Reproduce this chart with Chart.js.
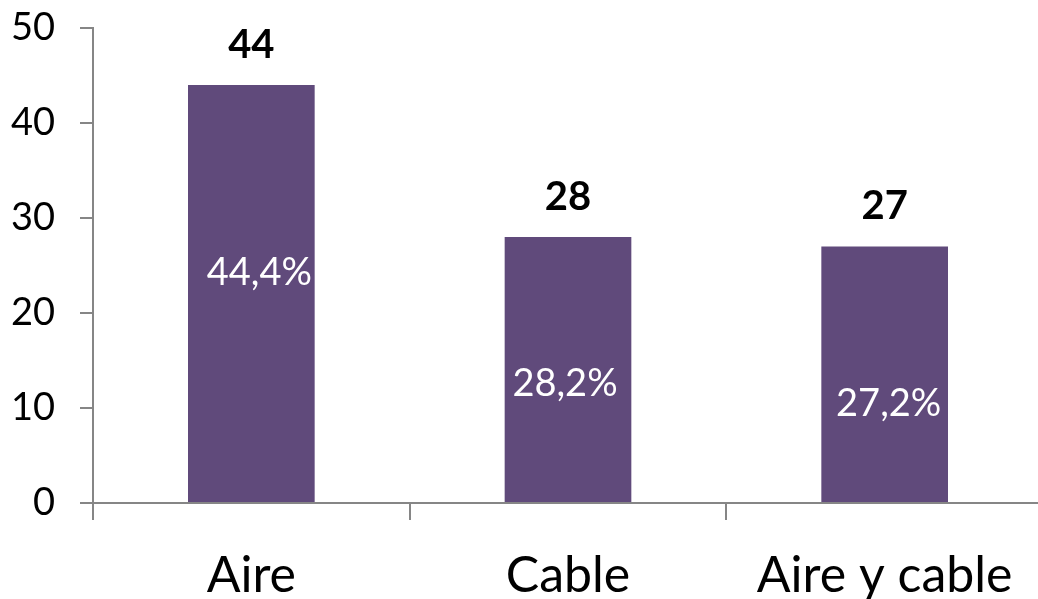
<!DOCTYPE html>
<html>
<head>
<meta charset="utf-8">
<script src="https://cdn.jsdelivr.net/npm/chart.js@4"></script>
<style>
html,body{margin:0;padding:0;background:#fff;overflow:hidden;}
#wrap{position:relative;width:1050px;height:599px;}
</style>
</head>
<body>
<div id="wrap"><canvas id="c"></canvas></div>
<script>
const categories = ["Aire", "Cable", "Aire y cable"];
const counts = [44, 28, 27];
const percentLabels = ["44,4%", "28,2%", "27,2%"];
const yTicks = [0, 10, 20, 30, 40, 50];

const FONT = "Lato, 'Open Sans', sans-serif";

const labelPlugin = {
  id: 'barLabels',
  afterDatasetsDraw(chart, args, opts) {
    const ctx = chart.ctx;
    const meta = chart.getDatasetMeta(0);
    const y = chart.scales.y;
    ctx.save();
    ctx.textAlign = 'center';
    ctx.textBaseline = 'middle';
    meta.data.forEach((bar, i) => {
      ctx.fillStyle = '#000';
      ctx.font = "bold 40px " + FONT;
      ctx.fillText(String(counts[i]), bar.x, bar.y - opts.topGap);
      ctx.fillStyle = '#fff';
      ctx.font = "38px " + FONT;
      ctx.fillText(percentLabels[i], bar.x + opts.innerDx[i], y.getPixelForValue(opts.innerAt[i]));
    });
    ctx.restore();
  }
};

new Chart(document.getElementById('c'), {
  type: 'bar',
  data: {
    labels: categories,
    datasets: [{
      data: counts,
      backgroundColor: '#604a7b',
      borderWidth: 0,
      categoryPercentage: 1,
      barPercentage: 0.4
    }]
  },
  options: {
    responsive: true,
    maintainAspectRatio: false,
    animation: false,
    events: [],
    layout: { padding: { top: 28, right: 7, left: 0, bottom: 0 } },
    plugins: {
      legend: { display: false },
      tooltip: { enabled: false },
      barLabels: { topGap: 40, innerAt: [24.2, 12.6, 10.5], innerDx: [8, -3, 4] }
    },
    scales: {
      x: {
        offset: true,
        grid: { display: true, offset: true, drawOnChartArea: false, color: '#868686', tickLength: 17, lineWidth: 2 },
        border: { display: true, color: '#868686', width: 2 },
        ticks: { color: '#000', font: { family: FONT, size: 50 }, padding: 26, maxRotation: 0 },
        afterFit(s) { s.height = 96; s.paddingLeft = 0; s.paddingRight = 0; }
      },
      y: {
        min: 0, max: 50,
        afterBuildTicks(s) { s.ticks = yTicks.map(v => ({ value: v })); },
        grid: { display: true, drawOnChartArea: false, color: '#868686', tickLength: 13, lineWidth: 2 },
        border: { display: true, color: '#868686', width: 2 },
        ticks: { color: '#000', font: { family: FONT, size: 38 }, padding: 25 },
        afterFit(s) { s.width = 93; s.paddingTop = 0; s.paddingBottom = 0; }
      }
    }
  },
  plugins: [labelPlugin]
});
</script>
</body>
</html>
